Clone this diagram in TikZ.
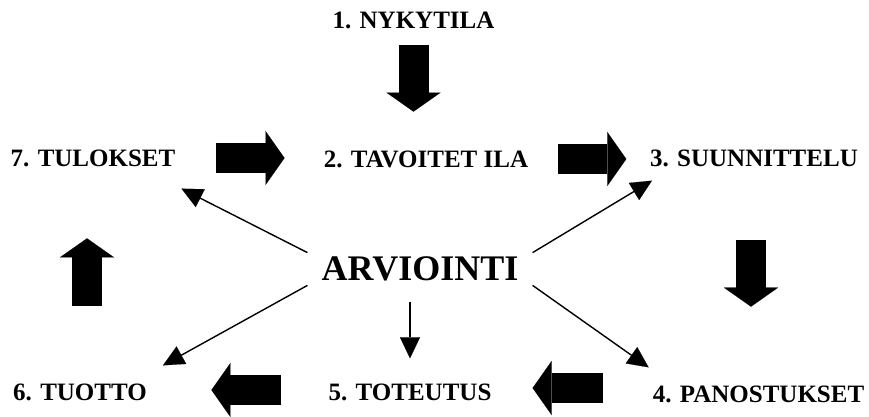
\documentclass[tikz,border=0pt]{standalone}
\usepackage{fontspec}
\setmainfont{Liberation Serif}
\usetikzlibrary{positioning}
\usetikzlibrary{arrows.meta}

\begin{document}
\begin{tikzpicture}
	[	x=1pt, y=-1pt,
		label/.style={inner sep=3pt,font=\fontsize{25}{30}\selectfont\bfseries},
		centre/.style={inner xsep=14pt,inner ysep=4pt,font=\fontsize{36}{42}\selectfont\bfseries},
		blk/.style={line width=30pt,-{Triangle[width=54pt,length=19pt,line width=0.1pt]}},
		vec/.style={line width=1.4pt,-{Triangle[width=20pt,length=21pt,line width=0.1pt]}}	]
	\useasboundingbox (0,0) rectangle (869,416);
	\node[label] (nyky) at (413.5,20) {1. NYKYTILA};
	\node[label] (tavoite) at (426,159) {2. TAVOITET ILA};
	\node[label] (suunn) at (754,158) {3. SUUNNITTELU};
	\node[label] (panos) at (758.5,394) {4. PANOSTUKSET};
	\node[label] (tot) at (410,392) {5. TOTEUTUS};
	\node[label] (tuotto) at (80,392) {6. TUOTTO};
	\node[label] (tulos) at (93,158) {7. TULOKSET};
	\node[centre] (arvi) at (420,269) {ARVIOINTI};
	% kierron nuolet
	\draw[blk] ([yshift=-13pt]nyky.south) -- ++(0,67);
	\draw[blk] ([xshift=27pt]tavoite.east) -- ++(68,0);
	\draw[blk] ([shift={(-3,70)}]suunn.south) -- ++(0,67);
	\draw[blk] ([shift={(-47,-6)}]panos.west) -- ++(-70,0);
	\draw[blk] ([shift={(-44,-2)}]tot.west) -- ++(-70,0);
	\draw[blk] ([shift={(7,-74)}]tuotto.north) -- ++(0,-68);
	\draw[blk] ([xshift=37pt]tulos.east) -- ++(69,0);
	% arviointi
	\draw[vec] (arvi.north west) -- ([shift={(3,19)}]tulos.south east);
	\draw[vec] (arvi.north east) -- ([shift={(5,11)}]suunn.south west);
	\draw[vec] (arvi.south east) -- ([shift={(-1,-15)}]panos.north west);
	\draw[vec] (arvi.south west) -- ([shift={(13,-15)}]tuotto.north east);
	\draw[vec,shorten <=17pt,shorten >=22pt] (arvi.south -| tot.north) -- (tot.north);
\end{tikzpicture}
\end{document}
